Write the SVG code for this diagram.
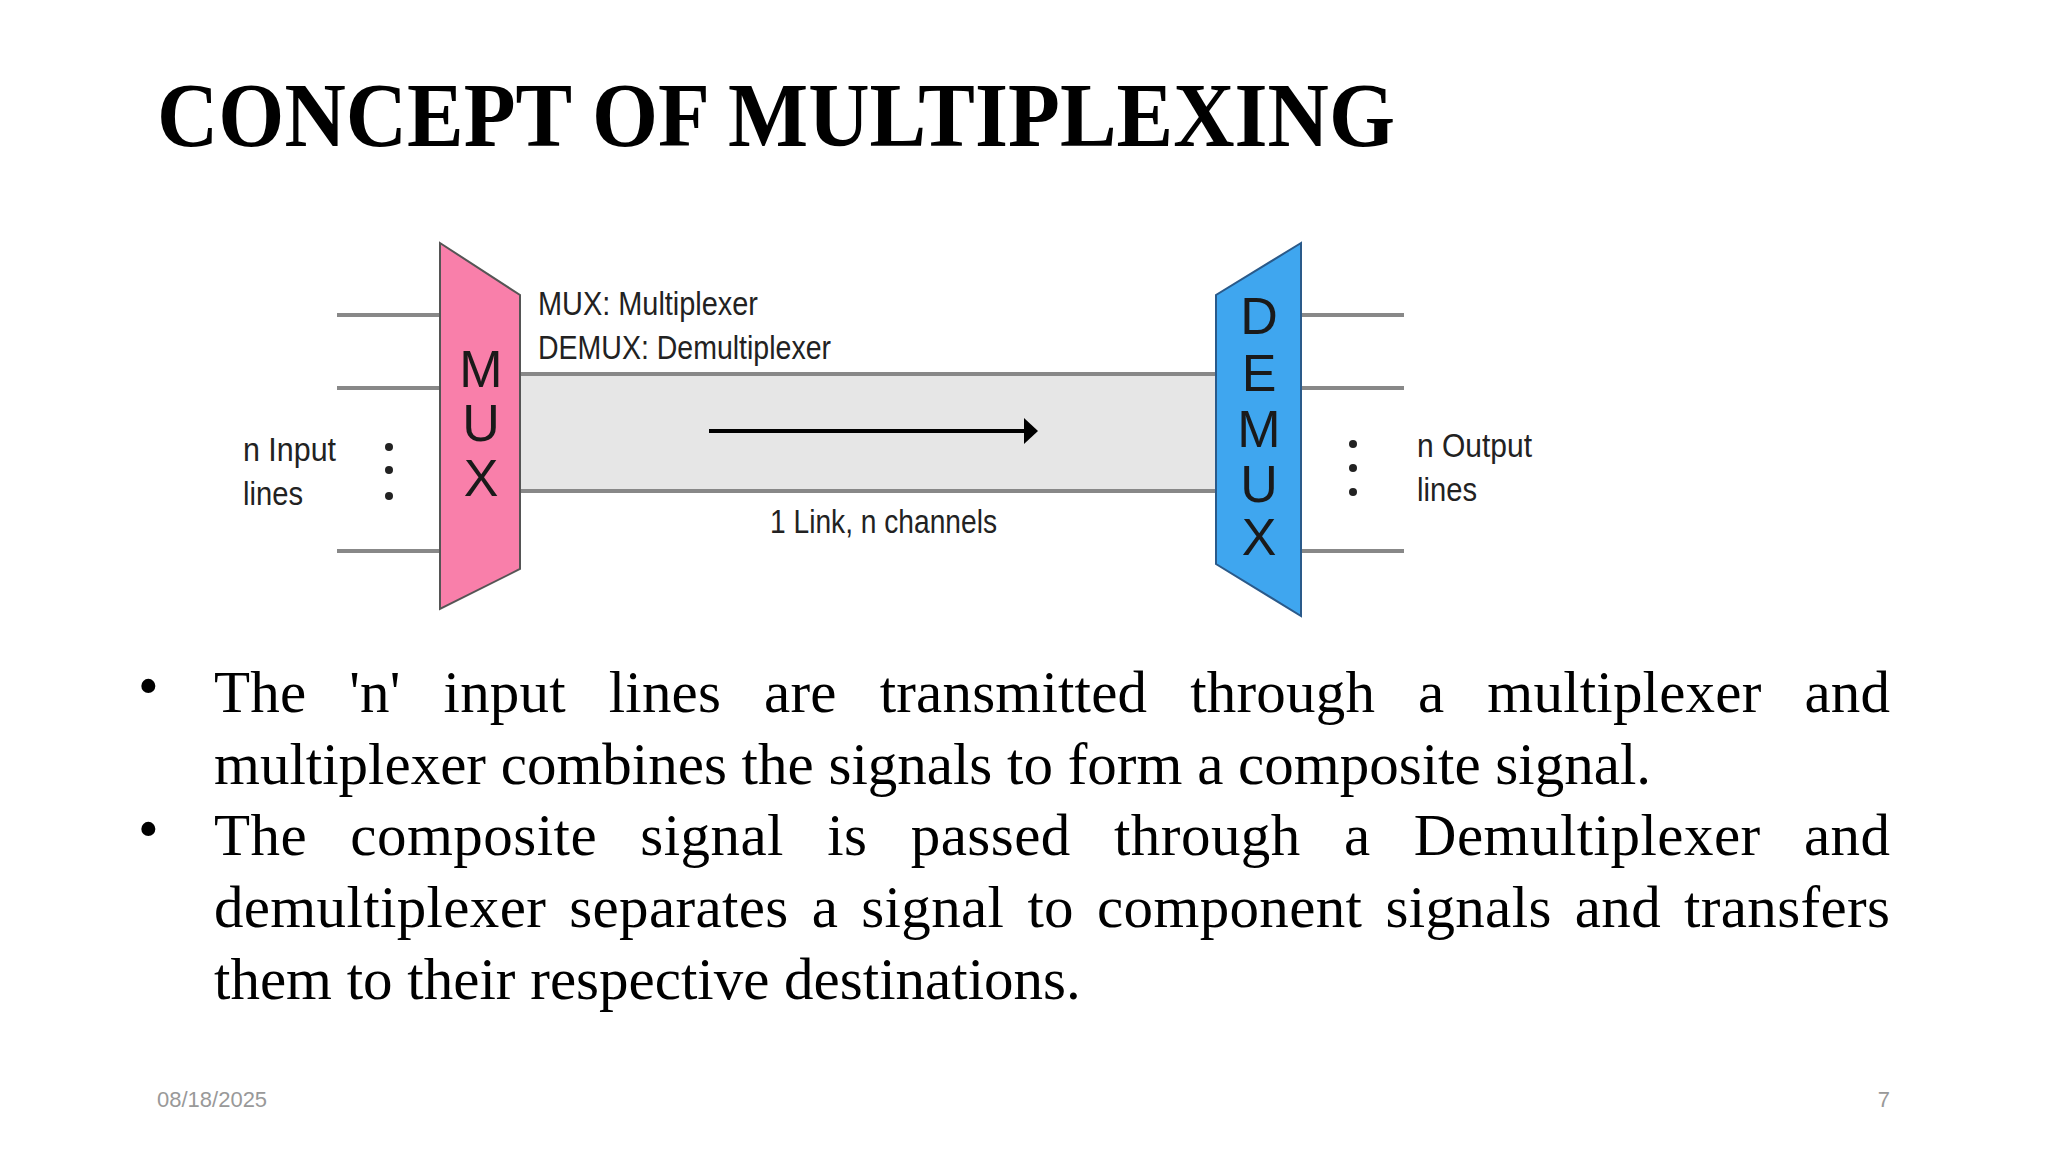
<svg xmlns="http://www.w3.org/2000/svg" width="2048" height="1152" viewBox="0 0 2048 1152">
<style>
.t{font-family:"Liberation Serif",serif;fill:#000}
.d{font-family:"Liberation Sans Narrow","Liberation Sans",sans-serif;fill:#222;font-size:34px}
.big{font-family:"Liberation Sans",sans-serif;fill:#1a1a1a;font-size:52px;text-anchor:middle}
.ln{stroke:#888;stroke-width:4}
.ft{font-family:"Liberation Sans",sans-serif;fill:#999;font-size:22px}
</style>
<rect width="2048" height="1152" fill="#fff"/>
<text class="t" x="157" y="146" font-size="92" font-weight="bold" textLength="1238" lengthAdjust="spacingAndGlyphs">CONCEPT OF MULTIPLEXING</text>
<g id="link">
<rect x="520" y="374" width="696" height="117" fill="#e6e6e6"/>
<line class="ln" x1="520" y1="374" x2="1216" y2="374"/>
<line class="ln" x1="520" y1="491" x2="1216" y2="491"/>
<text class="d" x="770" y="533" textLength="227" lengthAdjust="spacingAndGlyphs">1 Link, n channels</text>
</g>
<g id="connectors">
<line x1="709" y1="431" x2="1026" y2="431" stroke="#000" stroke-width="4"/>
<path d="M1024,418 L1038,431 L1024,444 Z" fill="#000"/>
<line class="ln" x1="337" y1="315" x2="440" y2="315"/>
<line class="ln" x1="337" y1="388" x2="440" y2="388"/>
<line class="ln" x1="337" y1="551" x2="440" y2="551"/>
<line class="ln" x1="1301" y1="315" x2="1404" y2="315"/>
<line class="ln" x1="1301" y1="388" x2="1404" y2="388"/>
<line class="ln" x1="1301" y1="551" x2="1404" y2="551"/>
</g>
<g id="inputs">
<circle cx="389" cy="447" r="4" fill="#222"/><circle cx="389" cy="470" r="4" fill="#222"/><circle cx="389" cy="496" r="4" fill="#222"/>
<text class="d" x="243" y="461" textLength="93" lengthAdjust="spacingAndGlyphs">n Input</text>
<text class="d" x="243" y="505" textLength="60" lengthAdjust="spacingAndGlyphs">lines</text>
</g>
<g id="outputs">
<circle cx="1353" cy="444" r="4" fill="#222"/><circle cx="1353" cy="468" r="4" fill="#222"/><circle cx="1353" cy="492" r="4" fill="#222"/>
<text class="d" x="1417" y="457" textLength="115" lengthAdjust="spacingAndGlyphs">n Output</text>
<text class="d" x="1417" y="501" textLength="60" lengthAdjust="spacingAndGlyphs">lines</text>
</g>
<g id="legend">
<text class="d" x="538" y="315" textLength="220" lengthAdjust="spacingAndGlyphs">MUX: Multiplexer</text>
<text class="d" x="538" y="359" textLength="293" lengthAdjust="spacingAndGlyphs">DEMUX: Demultiplexer</text>
</g>
<g id="mux">
<polygon points="440,243 520,295 520,569 440,609" fill="#f97faa" stroke="#555" stroke-width="2"/>
<text class="big" x="481" y="387">M</text><text class="big" x="481" y="441">U</text><text class="big" x="481" y="496">X</text>
</g>
<g id="demux">
<polygon points="1301,243 1216,295 1216,564 1301,616" fill="#3fa6ef" stroke="#2a5a8a" stroke-width="2"/>
<text class="big" x="1259" y="334">D</text><text class="big" x="1259" y="391">E</text><text class="big" x="1259" y="447">M</text><text class="big" x="1259" y="502">U</text><text class="big" x="1259" y="555">X</text>
</g>
<g id="bullets" class="t" font-size="59">
<text x="138" y="706">•</text><text x="138" y="849">•</text>
<text x="214" y="712" textLength="1676" lengthAdjust="spacing" word-spacing="28">The 'n' input lines are transmitted through a multiplexer and</text>
<text x="214" y="784">multiplexer combines the signals to form a composite signal.</text>
<text x="214" y="855" textLength="1676" lengthAdjust="spacing" word-spacing="28">The composite signal is passed through a Demultiplexer and</text>
<text x="214" y="927" textLength="1676" lengthAdjust="spacing" word-spacing="8">demultiplexer separates a signal to component signals and transfers</text>
<text x="214" y="999">them to their respective destinations.</text>
</g>
<text class="ft" x="157" y="1107">08/18/2025</text>
<text class="ft" x="1890" y="1107" text-anchor="end">7</text>
</svg>
